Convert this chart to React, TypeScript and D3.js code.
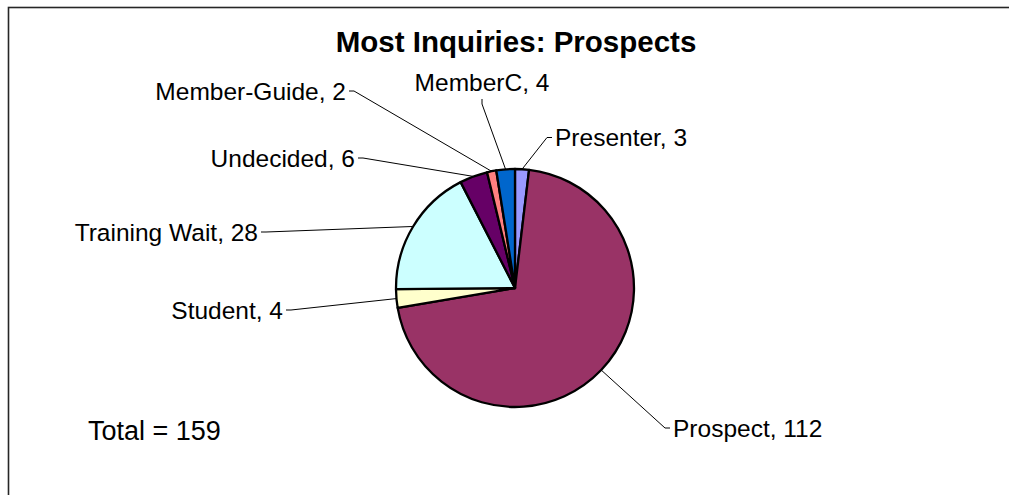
import React from "react";
import * as d3 from "d3";

const categories = ["Presenter", "Prospect", "Student", "Training Wait", "Undecided", "Member-Guide", "MemberC"];
const values = [3, 112, 4, 28, 6, 2, 4];
const colors = ["#9999FF", "#993366", "#FFFFCC", "#CCFFFF", "#660066", "#FF8080", "#0066CC"];
const title = "Most Inquiries: Prospects";
const totalLabel = "Total = 159";

// label layout: anchor point where leader line meets label, side of text
type Lay = { x: number; y: number; side: "left" | "right" | "top" };
const labelLayout: Lay[] = [
  { x: 555, y: 137.5, side: "right" },
  { x: 673, y: 428, side: "right" },
  { x: 283, y: 310, side: "left" },
  { x: 258, y: 232, side: "left" },
  { x: 355, y: 158, side: "left" },
  { x: 346, y: 91, side: "left" },
  { x: 482, y: 98, side: "top" },
];

const W = 1009;
const H = 495;
const cx = 515;
const cy = 288;
const R = 119;
const FONT = "'Liberation Sans', Arial, Helvetica, sans-serif";
const LABEL_SIZE = 24.5;

export default function App() {
  const pie = d3.pie<number>().sort(null).startAngle(0).endAngle(2 * Math.PI);
  const arcs = pie(values);
  const arc = d3.arc<d3.PieArcDatum<number>>().innerRadius(0).outerRadius(R);
  const line = d3.line<[number, number]>();

  return (
    <svg width={W} height={H} style={{ position: "absolute", left: 0, top: 0, background: "#fff" }}>
      <rect x={8.5} y={7.5} width={W + 20} height={H + 20} fill="#fff" stroke="#262626" strokeWidth={1.6} />
      <text x={516} y={52} textAnchor="middle" fontFamily={FONT} fontWeight="bold" fontSize={29.5} fill="#000">
        {title}
      </text>
      <g transform={`translate(${cx},${cy})`}>
        {arcs.map((a, i) => (
          <path key={i} d={arc(a) || ""} fill={colors[i]} stroke="#000" strokeWidth={2.3} strokeLinejoin="round" />
        ))}
      </g>
      {arcs.map((a, i) => {
        const mid = (a.startAngle + a.endAngle) / 2;
        const ex = cx + R * Math.sin(mid);
        const ey = cy - R * Math.cos(mid);
        const L = labelLayout[i];
        let pts: [number, number][];
        let tx: number, ty: number, anchor: "start" | "end" | "middle";
        if (L.side === "right") {
          pts = [[ex, ey], [L.x - 8, L.y], [L.x - 3, L.y]];
          tx = L.x; ty = L.y + LABEL_SIZE * 0.36; anchor = "start";
        } else if (L.side === "left") {
          pts = [[ex, ey], [L.x + 8, L.y], [L.x + 3, L.y]];
          tx = L.x; ty = L.y + LABEL_SIZE * 0.36; anchor = "end";
        } else {
          pts = [[ex, ey], [L.x, L.y + 6], [L.x, L.y + 1]];
          tx = L.x; ty = L.y - 7; anchor = "middle";
        }
        return (
          <g key={i}>
            <path d={line(pts) || ""} fill="none" stroke="#000" strokeWidth={1} />
            <text x={tx} y={ty} textAnchor={anchor} fontFamily={FONT} fontSize={LABEL_SIZE} fill="#000">
              {`${categories[i]}, ${values[i]}`}
            </text>
          </g>
        );
      })}
      <text x={88} y={440} fontFamily={FONT} fontSize={27} fill="#000">
        {totalLabel}
      </text>
    </svg>
  );
}
